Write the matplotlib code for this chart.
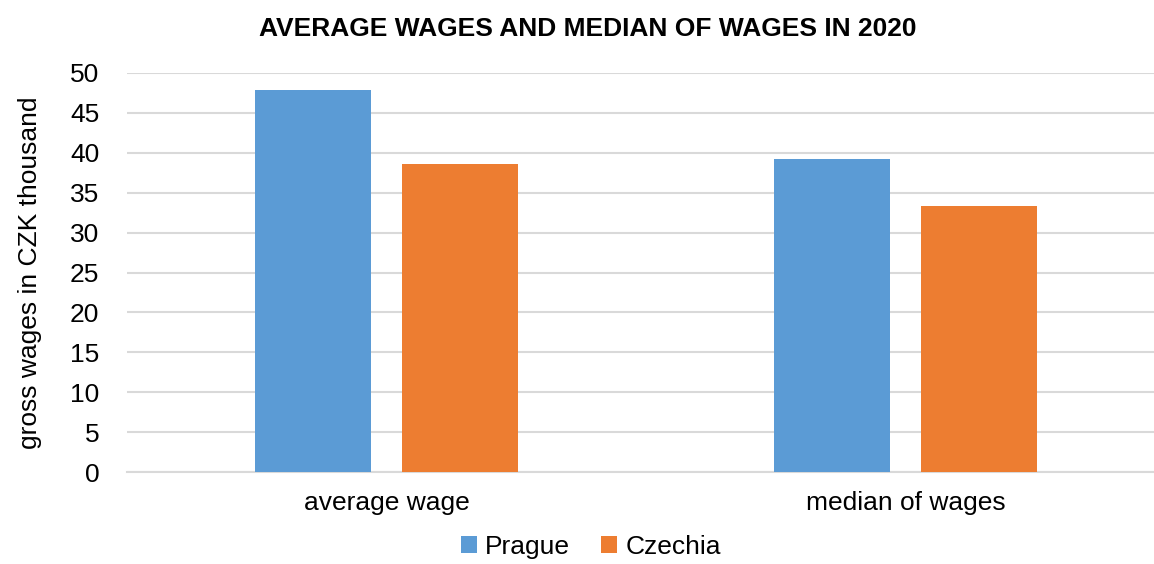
import matplotlib.pyplot as plt
import numpy as np

plt.rcParams['font.family'] = ['Liberation Sans', 'DejaVu Sans']

# Veriler
categories = ['average wage', 'median of wages']
series_names = ['Prague', 'Czechia']
prague = [47.9, 39.2]
czechia = [38.6, 33.3]
colors = ['#5b9bd5', '#ed7d31']

fig = plt.figure(figsize=(11.54, 5.64), dpi=100)
ax = fig.add_axes([127 / 1154, 1 - 472 / 564, 1 - 127 / 1154, (472 - 73) / 564])

x = np.arange(len(categories))
w = 0.2235
off = 0.1416
ax.bar(x - off, prague, w, color=colors[0], label=series_names[0], zorder=3)
ax.bar(x + off, czechia, w, color=colors[1], label=series_names[1], zorder=3)

ax.set_ylim(0, 50)
ax.set_yticks(range(0, 51, 5))
ax.set_xlim(-0.5, 1.479)
ax.set_xticks(x)
ax.set_xticklabels(categories)
ax.tick_params(axis='both', length=0, labelsize=19, colors='#000000')
ax.tick_params(axis='x', pad=14)
ax.tick_params(axis='y', pad=20)
ax.grid(axis='y', color='#d9d9d9', linewidth=1.5, zorder=0)
for s in ['top', 'right', 'left']:
    ax.spines[s].set_visible(False)
ax.spines['bottom'].set_color('#d9d9d9')
ax.spines['bottom'].set_linewidth(1.5)

ax.set_ylabel('gross wages in CZK thousand', fontsize=19, labelpad=20)
fig.text(0.509, 0.948, 'AVERAGE WAGES AND MEDIAN OF WAGES IN 2020',
         ha='center', va='center', fontsize=19, fontweight='bold')

fig.legend(loc='center', bbox_to_anchor=(0.512, 0.03), ncol=2, frameon=False,
           fontsize=19, handlelength=0.6, handleheight=0.6, handletextpad=0.3,
           columnspacing=1.2)

plt.savefig('out.png', dpi=100)
plt.close()
